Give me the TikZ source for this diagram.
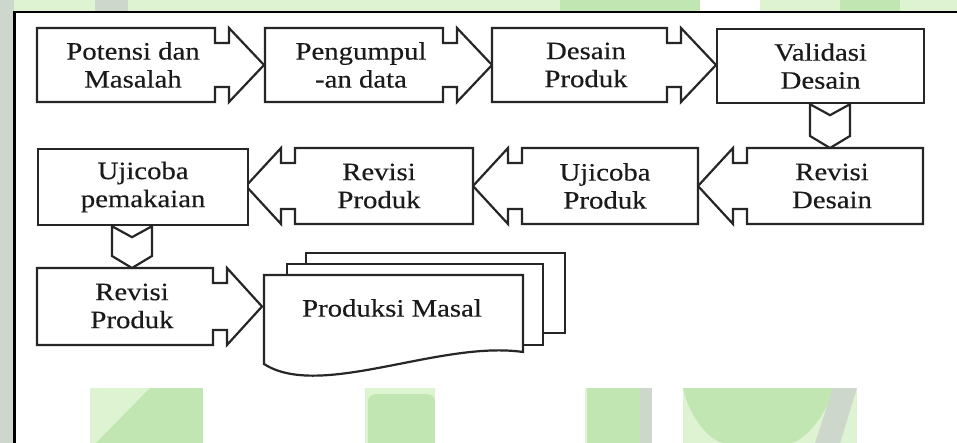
\documentclass[tikz,border=0pt]{standalone}
\usepackage{fontspec}
\setmainfont{Liberation Serif}[FakeStretch=1.15,FakeBold=0.35]
\usetikzlibrary{calc}
\definecolor{boxline}{HTML}{262626}
\definecolor{ink}{HTML}{1A1A1A}
\definecolor{wmA}{HTML}{DDF3D2}
\definecolor{wmB}{HTML}{C2E6B2}
\definecolor{wmC}{HTML}{CDD7CB}

% notched arrow box pointing right: left x, notch x, top y, bottom y
\newcommand{\rarrowbox}[4]{%
  \draw[box] (#1,#3) -- (#2,#3) -- (#2,#3+15) -- (#2+14,#3+15) -- (#2+14,#3)
    -- (#2+49,{(#3+#4)/2}) -- (#2+14,#4) -- (#2+14,#4-15) -- (#2,#4-15)
    -- (#2,#4) -- (#1,#4) -- cycle;}
% notched arrow box pointing left: right x, notch x, top y, bottom y
\newcommand{\larrowbox}[4]{%
  \draw[box] (#1,#3) -- (#2,#3) -- (#2,#3+15) -- (#2-14,#3+15) -- (#2-14,#3)
    -- (#2-49,{(#3+#4)/2}) -- (#2-14,#4) -- (#2-14,#4-15) -- (#2,#4-15)
    -- (#2,#4) -- (#1,#4) -- cycle;}
% downward chevron between two anchors
\newcommand{\downchevron}[2]{%
  \draw[box] let \p1=#1, \p2=#2 in
    (\x1-20pt,\y1) -- (\x1,\y1-11pt) -- (\x1+20pt,\y1) -- (\x1+20pt,\y2+12pt)
    -- (\x2,\y2) -- (\x1-20pt,\y2+12pt) -- cycle;}

\begin{document}
\begin{tikzpicture}[x=1pt,y=-1pt,
  box/.style={draw=boxline, line width=2.2pt, fill=white, line join=miter},
  plainbox/.style={box, inner sep=0pt, anchor=north west},
  lbl/.style={text=ink, font=\fontsize{25}{28}\selectfont, align=center, inner sep=0pt},
]
\useasboundingbox (0,0) rectangle (957,443);

% page background with the faint green watermark
\fill[white] (0,0) rectangle (957,443);
\fill[wmA] (0,0) rectangle (957,12);
\fill[wmC] (95,0) rectangle (128,12);
\fill[wmB] (560,0) rectangle (700,12);
\fill[white] (700,0) rectangle (760,12);
\fill[wmB] (840,0) rectangle (900,12);
\fill[wmC] (0,0) rectangle (14,443);
\fill[wmA] (16,388) rectangle (957,443);
\fill[white] (16,388) rectangle (90,443);
\fill[wmB] (96,443) -- (150,388) -- (203,388) -- (203,443) -- cycle;
\fill[white] (203,388) rectangle (365,443);
\fill[wmB] (368,443) -- (368,402) .. controls (368,396) and (372,394) .. (378,394)
  -- (425,394) .. controls (431,394) and (435,396) .. (435,402) -- (435,443) -- cycle;
\fill[white] (435,388) rectangle (585,443);
\fill[wmB] (587,388) rectangle (652,443);
\fill[wmC] (640,388) rectangle (652,443);
\fill[white] (652,388) rectangle (683,443);
\fill[wmB] (683,388) -- (833,388) .. controls (826,420) and (800,443) .. (790,443)
  -- (725,443) .. controls (712,443) and (690,420) .. (683,388) -- cycle;
\fill[wmC] (833,388) -- (857,388) -- (840,443) -- (815,443) -- cycle;
\fill[white] (857,388) rectangle (957,443);

% framed white sheet
\fill[white] (16,12) rectangle (957,388);
\draw[black, line width=3pt] (14.5,11) -- (14.5,443);
\draw[black, line width=1.5pt] (13,11.8) -- (957,11.8);
\draw[black, line width=2.5pt] (13,12) -- (27,12);
\draw[black, line width=2.5pt] (943,12) -- (957,12);

% row 1
\rarrowbox{37}{215}{28}{102}
\rarrowbox{265}{443}{28}{102}
\rarrowbox{492}{667}{28}{102}
\node[plainbox, minimum width=207pt, minimum height=74pt] (val) at (716,28) {};
\node[lbl] (potensi) at (133,65) {Potensi dan\\Masalah};
\node[lbl] (kumpul) at (361,65) {Pengumpul\\-an data};
\node[lbl] (desain) at (586,65) {Desain\\Produk};
\node[lbl] at (val.center) {Validasi\\Desain};

% row 2
\larrowbox{923}{747}{148}{224}
\larrowbox{698}{522}{148}{224}
\larrowbox{473}{295}{148}{224}
\node[plainbox, minimum width=210pt, minimum height=76pt] (ujipakai) at (37,148) {};
\node[lbl] (revdes) at (832,186) {Revisi\\Desain};
\node[lbl] (ujiprod) at (605,186) {Ujicoba\\Produk};
\node[lbl] (revprod) at (379,186) {Revisi\\Produk};
\node[lbl] at (ujipakai.center) {Ujicoba\\pemakaian};
\coordinate (revdestop) at (830,148);

% row 3
\rarrowbox{37}{213}{268}{345}
\node[lbl] (revprod2) at (132,306) {Revisi\\Produk};
\coordinate (revprod2top) at (132,268);

% stacked documents
\draw[box] (306,253) rectangle (565,333);
\draw[box] (287,264) rectangle (543,345);
\draw[box] (264,275) -- (523,275) -- (523,352)
  .. controls (440,340) and (320,400) .. (264,364) -- cycle;
\node[lbl] (masal) at (392,308) {Produksi Masal};

% downward links
\downchevron{(val.south -| revdestop)}{(revdestop)}
\downchevron{(ujipakai.south -| revprod2top)}{(revprod2top)}
\end{tikzpicture}
\end{document}
